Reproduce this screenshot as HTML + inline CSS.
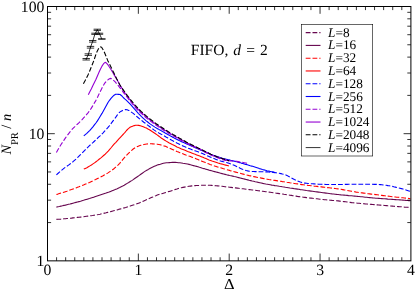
<!DOCTYPE html>
<html lang="en"><head><meta charset="utf-8"><title>FIFO, d = 2</title>
<style>html,body{margin:0;padding:0;background:#fff}body{width:415px;height:290px;overflow:hidden}svg{display:block}</style>
</head><body>
<svg width="415" height="290" viewBox="0 0 415 290" style="text-rendering:geometricPrecision">
<rect width="415" height="290" fill="#fff"/>
<g fill="none" stroke-width="1.1" stroke-linejoin="round">
<path d="M56.4 219.4 L57.9 219.3 L59.4 219.2 L60.9 219.1 L62.4 218.9 L63.9 218.8 L65.4 218.7 L66.9 218.5 L68.5 218.4 L70.0 218.2 L71.5 218.1 L73.0 217.9 L74.5 217.8 L76.0 217.6 L77.5 217.4 L79.0 217.3 L80.5 217.1 L82.0 216.9 L83.5 216.7 L85.0 216.5 L86.5 216.3 L88.0 216.1 L89.5 215.9 L91.0 215.7 L92.6 215.5 L94.1 215.2 L95.6 215.0 L97.1 214.7 L98.6 214.5 L100.1 214.2 L101.6 213.8 L103.1 213.5 L104.6 213.1 L106.1 212.8 L107.6 212.4 L109.1 212.0 L110.6 211.6 L112.1 211.2 L113.6 210.8 L115.1 210.4 L116.7 210.0 L118.2 209.6 L119.7 209.1 L121.2 208.7 L122.7 208.3 L124.2 207.9 L125.7 207.5 L127.2 207.0 L128.7 206.6 L130.2 206.1 L131.7 205.6 L133.2 205.1 L134.7 204.6 L136.2 204.1 L137.7 203.5 L139.3 202.9 L140.8 202.3 L142.3 201.6 L143.8 200.9 L145.3 200.3 L146.8 199.6 L148.3 198.9 L149.8 198.2 L151.3 197.5 L152.8 196.9 L154.3 196.2 L155.8 195.7 L157.3 195.1 L158.8 194.6 L160.3 194.1 L161.8 193.7 L163.4 193.2 L164.9 192.7 L166.4 192.3 L167.9 191.8 L169.4 191.4 L170.9 190.9 L172.4 190.4 L173.9 189.9 L175.4 189.4 L176.9 189.0 L178.4 188.5 L179.9 188.1 L181.4 187.7 L182.9 187.4 L184.4 187.1 L185.9 186.8 L187.5 186.5 L189.0 186.3 L190.5 186.1 L192.0 185.9 L193.5 185.7 L195.0 185.6 L196.5 185.5 L198.0 185.5 L199.5 185.4 L201.0 185.3 L202.5 185.3 L204.0 185.2 L205.5 185.2 L207.0 185.2 L208.5 185.2 L210.1 185.3 L211.6 185.4 L213.1 185.5 L214.6 185.6 L216.1 185.8 L217.6 185.9 L219.1 186.0 L220.6 186.2 L222.1 186.3 L223.6 186.5 L225.1 186.7 L226.6 186.9 L228.1 187.0 L229.6 187.2 L231.1 187.4 L232.6 187.6 L234.2 187.8 L235.7 187.9 L237.2 188.1 L238.7 188.3 L240.2 188.5 L241.7 188.7 L243.2 188.8 L244.7 189.0 L246.2 189.2 L247.7 189.4 L249.2 189.6 L250.7 189.8 L252.2 190.0 L253.7 190.1 L255.2 190.3 L256.7 190.5 L258.3 190.7 L259.8 190.9 L261.3 191.1 L262.8 191.3 L264.3 191.5 L265.8 191.7 L267.3 191.9 L268.8 192.1 L270.3 192.3 L271.8 192.5 L273.3 192.7 L274.8 193.0 L276.3 193.2 L277.8 193.4 L279.3 193.6 L280.9 193.8 L282.4 194.0 L283.9 194.3 L285.4 194.5 L286.9 194.7 L288.4 195.0 L289.9 195.2 L291.4 195.4 L292.9 195.7 L294.4 195.9 L295.9 196.1 L297.4 196.4 L298.9 196.6 L300.4 196.8 L301.9 197.0 L303.4 197.2 L305.0 197.4 L306.5 197.6 L308.0 197.8 L309.5 198.0 L311.0 198.1 L312.5 198.3 L314.0 198.5 L315.5 198.7 L317.0 198.8 L318.5 199.0 L320.0 199.2 L321.5 199.3 L323.0 199.5 L324.5 199.7 L326.0 199.8 L327.5 200.0 L329.1 200.1 L330.6 200.2 L332.1 200.4 L333.6 200.5 L335.1 200.6 L336.6 200.8 L338.1 200.9 L339.6 201.1 L341.1 201.3 L342.6 201.4 L344.1 201.6 L345.6 201.8 L347.1 202.0 L348.6 202.2 L350.1 202.4 L351.7 202.6 L353.2 202.7 L354.7 202.9 L356.2 203.0 L357.7 203.2 L359.2 203.3 L360.7 203.5 L362.2 203.6 L363.7 203.7 L365.2 203.9 L366.7 204.0 L368.2 204.1 L369.7 204.3 L371.2 204.4 L372.7 204.5 L374.2 204.6 L375.8 204.8 L377.3 204.9 L378.8 205.0 L380.3 205.1 L381.8 205.3 L383.3 205.4 L384.8 205.5 L386.3 205.6 L387.8 205.8 L389.3 205.9 L390.8 206.0 L392.3 206.1 L393.8 206.3 L395.3 206.4 L396.8 206.5 L398.3 206.6 L399.9 206.7 L401.4 206.8 L402.9 206.9 L404.4 207.1 L405.9 207.2 L407.4 207.3 L408.9 207.4 L410.4 207.5" stroke="#67074f" stroke-dasharray="4.8 2"/>
<path d="M56.4 207.1 L57.9 206.8 L59.4 206.5 L60.9 206.1 L62.4 205.8 L63.9 205.4 L65.4 205.1 L66.9 204.7 L68.5 204.3 L70.0 204.0 L71.5 203.6 L73.0 203.2 L74.5 202.8 L76.0 202.4 L77.5 202.0 L79.0 201.6 L80.5 201.2 L82.0 200.7 L83.5 200.3 L85.0 199.8 L86.5 199.4 L88.0 198.9 L89.5 198.5 L91.0 198.0 L92.6 197.5 L94.1 197.1 L95.6 196.6 L97.1 196.1 L98.6 195.6 L100.1 195.1 L101.6 194.6 L103.1 194.1 L104.6 193.6 L106.1 193.1 L107.6 192.5 L109.1 192.0 L110.6 191.4 L112.1 190.8 L113.6 190.2 L115.1 189.6 L116.7 188.9 L118.2 188.2 L119.7 187.5 L121.2 186.7 L122.7 186.0 L124.2 185.2 L125.7 184.3 L127.2 183.4 L128.7 182.5 L130.2 181.5 L131.7 180.6 L133.2 179.6 L134.7 178.5 L136.2 177.5 L137.7 176.5 L139.3 175.4 L140.8 174.3 L142.3 173.2 L143.8 172.1 L145.3 171.1 L146.8 170.2 L148.3 169.4 L149.8 168.5 L151.3 167.7 L152.8 167.0 L154.3 166.3 L155.8 165.7 L157.3 165.1 L158.8 164.6 L160.3 164.2 L161.8 163.7 L163.4 163.3 L164.9 163.0 L166.4 162.8 L167.9 162.7 L169.4 162.6 L170.9 162.5 L172.4 162.4 L173.9 162.4 L175.4 162.4 L176.9 162.5 L178.4 162.7 L179.9 162.8 L181.4 163.0 L182.9 163.3 L184.4 163.5 L185.9 163.7 L187.5 164.0 L189.0 164.4 L190.5 164.8 L192.0 165.2 L193.5 165.6 L195.0 166.0 L196.5 166.4 L198.0 166.8 L199.5 167.3 L201.0 167.7 L202.5 168.2 L204.0 168.6 L205.5 169.1 L207.0 169.5 L208.5 169.9 L210.1 170.4 L211.6 170.8 L213.1 171.2 L214.6 171.6 L216.1 172.0 L217.6 172.4 L219.1 172.8 L220.6 173.2 L222.1 173.6 L223.6 174.0 L225.1 174.4 L226.6 174.8 L228.1 175.1 L229.6 175.5 L231.1 175.8 L232.6 176.1 L234.2 176.5 L235.7 176.8 L237.2 177.2 L238.7 177.6 L240.2 178.0 L241.7 178.4 L243.2 178.7 L244.7 179.1 L246.2 179.5 L247.7 179.9 L249.2 180.3 L250.7 180.6 L252.2 181.0 L253.7 181.3 L255.2 181.7 L256.7 182.0 L258.3 182.4 L259.8 182.7 L261.3 183.0 L262.8 183.4 L264.3 183.7 L265.8 184.0 L267.3 184.2 L268.8 184.5 L270.3 184.8 L271.8 185.1 L273.3 185.3 L274.8 185.6 L276.3 185.8 L277.8 186.0 L279.3 186.3 L280.9 186.5 L282.4 186.8 L283.9 187.0 L285.4 187.3 L286.9 187.5 L288.4 187.7 L289.9 188.0 L291.4 188.2 L292.9 188.4 L294.4 188.7 L295.9 188.9 L297.4 189.1 L298.9 189.3 L300.4 189.6 L301.9 189.8 L303.4 190.0 L305.0 190.2 L306.5 190.5 L308.0 190.7 L309.5 190.9 L311.0 191.1 L312.5 191.3 L314.0 191.5 L315.5 191.7 L317.0 191.9 L318.5 192.1 L320.0 192.3 L321.5 192.5 L323.0 192.7 L324.5 192.9 L326.0 193.1 L327.5 193.3 L329.1 193.5 L330.6 193.7 L332.1 193.9 L333.6 194.0 L335.1 194.2 L336.6 194.4 L338.1 194.5 L339.6 194.7 L341.1 194.9 L342.6 195.0 L344.1 195.1 L345.6 195.3 L347.1 195.4 L348.6 195.6 L350.1 195.7 L351.7 195.8 L353.2 196.0 L354.7 196.1 L356.2 196.2 L357.7 196.4 L359.2 196.5 L360.7 196.7 L362.2 196.8 L363.7 197.0 L365.2 197.2 L366.7 197.3 L368.2 197.5 L369.7 197.6 L371.2 197.7 L372.7 197.9 L374.2 198.0 L375.8 198.2 L377.3 198.3 L378.8 198.4 L380.3 198.5 L381.8 198.6 L383.3 198.7 L384.8 198.8 L386.3 198.9 L387.8 199.1 L389.3 199.2 L390.8 199.3 L392.3 199.4 L393.8 199.5 L395.3 199.6 L396.8 199.7 L398.3 199.8 L399.9 199.9 L401.4 200.0 L402.9 200.1 L404.4 200.2 L405.9 200.4 L407.4 200.5 L408.9 200.6 L410.4 200.7" stroke="#67074f"/>
<path d="M56.4 194.5 L57.9 194.1 L59.4 193.6 L60.9 193.1 L62.4 192.7 L63.9 192.2 L65.4 191.7 L66.9 191.2 L68.5 190.6 L70.0 190.1 L71.5 189.6 L73.0 189.0 L74.5 188.5 L76.0 187.9 L77.5 187.3 L79.0 186.8 L80.5 186.2 L82.0 185.6 L83.5 185.0 L85.0 184.3 L86.5 183.7 L88.0 183.0 L89.5 182.4 L91.0 181.7 L92.6 181.0 L94.1 180.3 L95.6 179.6 L97.1 178.8 L98.6 178.1 L100.1 177.3 L101.6 176.5 L103.1 175.7 L104.6 174.8 L106.1 174.0 L107.6 173.1 L109.1 172.1 L110.6 171.1 L112.1 170.1 L113.6 169.0 L115.1 167.7 L116.7 166.3 L118.2 164.9 L119.7 163.3 L121.2 161.6 L122.7 159.7 L124.2 157.9 L125.7 156.3 L127.2 154.7 L128.7 153.2 L130.2 151.7 L131.7 150.3 L133.2 149.0 L134.7 148.0 L136.2 147.1 L137.7 146.4 L139.3 145.8 L140.8 145.3 L142.3 144.9 L143.8 144.5 L145.3 144.2 L146.8 144.0 L148.3 143.8 L149.8 143.8 L151.3 143.8 L152.8 143.9 L154.3 144.0 L155.8 144.1 L157.3 144.2 L158.8 144.5 L160.3 144.8 L161.8 145.2 L163.4 145.7 L164.9 146.1 L166.4 146.7 L167.9 147.4 L169.4 148.0 L170.9 148.7 L172.4 149.4 L173.9 150.1 L175.4 150.8 L176.9 151.5 L178.4 152.1 L179.9 152.7 L181.4 153.3 L182.9 153.8 L184.4 154.4 L185.9 155.0 L187.5 155.5 L189.0 156.1 L190.5 156.6 L192.0 157.2 L193.5 157.8 L195.0 158.3 L196.5 158.9 L198.0 159.5 L199.5 160.2 L201.0 160.8 L202.5 161.4 L204.0 162.0 L205.5 162.6 L207.0 163.2 L208.5 163.8 L210.1 164.4 L211.6 164.9 L213.1 165.5 L214.6 166.0 L216.1 166.4 L217.6 166.9 L219.1 167.4 L220.6 167.8 L222.1 168.2 L223.6 168.7 L225.1 169.1 L226.6 169.6 L228.1 170.0 L229.6 170.4 L231.1 170.9 L232.6 171.3 L234.2 171.7 L235.7 172.1 L237.2 172.5 L238.7 172.9 L240.2 173.3 L241.7 173.7 L243.2 174.1 L244.7 174.5 L246.2 174.9 L247.7 175.2 L249.2 175.6 L250.7 175.9 L252.2 176.3 L253.7 176.6 L255.2 176.9 L256.7 177.2 L258.3 177.5 L259.8 177.8 L261.3 178.1 L262.8 178.4 L264.3 178.7 L265.8 179.0 L267.3 179.2 L268.8 179.5 L270.3 179.7 L271.8 180.0 L273.3 180.2 L274.8 180.4 L276.3 180.6 L277.8 180.9 L279.3 181.1 L280.9 181.3 L282.4 181.6 L283.9 181.8 L285.4 182.0 L286.9 182.3 L288.4 182.5 L289.9 182.8 L291.4 183.0 L292.9 183.3 L294.4 183.5 L295.9 183.7 L297.4 183.9 L298.9 184.2 L300.4 184.4 L301.9 184.6 L303.4 184.8 L305.0 185.0 L306.5 185.2 L308.0 185.4 L309.5 185.5 L311.0 185.7 L312.5 185.9 L314.0 186.1 L315.5 186.2 L317.0 186.4 L318.5 186.6 L320.0 186.8 L321.5 186.9 L323.0 187.1 L324.5 187.3 L326.0 187.5 L327.5 187.6 L329.1 187.8 L330.6 188.0 L332.1 188.1 L333.6 188.3 L335.1 188.5 L336.6 188.7 L338.1 188.9 L339.6 189.1 L341.1 189.3 L342.6 189.6 L344.1 189.9 L345.6 190.1 L347.1 190.4 L348.6 190.7 L350.1 191.0 L351.7 191.3 L353.2 191.6 L354.7 191.8 L356.2 192.1 L357.7 192.3 L359.2 192.5 L360.7 192.7 L362.2 192.9 L363.7 193.1 L365.2 193.3 L366.7 193.5 L368.2 193.7 L369.7 193.9 L371.2 194.1 L372.7 194.3 L374.2 194.4 L375.8 194.6 L377.3 194.8 L378.8 195.0 L380.3 195.2 L381.8 195.4 L383.3 195.6 L384.8 195.8 L386.3 195.9 L387.8 196.1 L389.3 196.3 L390.8 196.5 L392.3 196.7 L393.8 196.8 L395.3 197.0 L396.8 197.2 L398.3 197.3 L399.9 197.5 L401.4 197.7 L402.9 197.8 L404.4 198.0 L405.9 198.1 L407.4 198.3 L408.9 198.5 L410.4 198.6" stroke="#ff0000" stroke-dasharray="4.8 2"/>
<path d="M83.8 169.1 L85.3 168.4 L86.9 167.7 L88.4 166.8 L89.9 165.9 L91.4 165.0 L93.0 163.9 L94.5 162.9 L96.0 161.7 L97.5 160.6 L99.1 159.3 L100.6 158.1 L102.1 156.8 L103.6 155.5 L105.2 154.2 L106.7 152.7 L108.2 151.1 L109.7 149.3 L111.3 147.5 L112.8 145.7 L114.3 143.9 L115.9 142.3 L117.4 140.6 L118.9 138.9 L120.4 137.3 L122.0 135.6 L123.5 134.0 L125.0 132.3 L126.5 130.5 L128.1 128.9 L129.6 127.6 L131.1 126.8 L132.6 126.2 L134.2 125.6 L135.7 125.3 L137.2 125.2 L138.7 125.4 L140.3 125.8 L141.8 126.3 L143.3 126.8 L144.9 127.5 L146.4 128.1 L147.9 128.9 L149.4 129.7 L151.0 130.7 L152.5 131.8 L154.0 132.8 L155.5 133.8 L157.1 134.9 L158.6 136.0 L160.1 137.1 L161.6 138.2 L163.2 139.2 L164.7 140.2 L166.2 141.1 L167.7 142.0 L169.3 142.9 L170.8 143.7 L172.3 144.5 L173.9 145.3 L175.4 146.1 L176.9 146.9 L178.4 147.6 L180.0 148.2 L181.5 148.9 L183.0 149.5 L184.5 150.1 L186.1 150.7 L187.6 151.4 L189.1 152.0 L190.6 152.6 L192.2 153.2 L193.7 153.8 L195.2 154.3 L196.7 154.9 L198.3 155.5 L199.8 156.1 L201.3 156.7 L202.9 157.3 L204.4 158.0 L205.9 158.6 L207.4 159.2 L209.0 159.9 L210.5 160.4 L212.0 161.0 L213.5 161.5 L215.1 162.0 L216.6 162.5 L218.1 163.0 L219.6 163.4 L221.2 163.9 L222.7 164.3 L224.2 164.7 L225.7 165.1 L227.3 165.5 L228.8 165.9" stroke="#ff0000"/>
<path d="M56.4 174.9 L57.9 173.5 L59.4 172.2 L60.9 170.9 L62.4 169.6 L63.9 168.4 L65.4 167.3 L66.9 166.2 L68.5 165.1 L70.0 164.0 L71.5 162.8 L73.0 161.7 L74.5 160.4 L76.0 159.1 L77.5 157.7 L79.0 156.2 L80.5 154.7 L82.0 153.2 L83.5 151.6 L85.0 150.1 L86.5 148.6 L88.0 147.1 L89.5 145.7 L91.0 144.3 L92.6 142.9 L94.1 141.5 L95.6 140.1 L97.1 138.7 L98.6 137.2 L100.1 135.8 L101.6 134.3 L103.1 132.8 L104.6 131.2 L106.1 129.6 L107.6 127.9 L109.1 126.1 L110.6 124.2 L112.1 122.2 L113.6 120.2 L115.1 118.2 L116.7 115.9 L118.2 113.7 L119.7 112.1 L121.2 111.2 L122.7 110.4 L124.2 109.9 L125.7 109.6 L127.2 109.8 L128.7 110.4 L130.2 111.4 L131.7 112.4 L133.2 113.4 L134.7 114.7 L136.2 116.1 L137.7 117.3 L139.3 118.6 L140.8 119.8 L142.3 121.0 L143.8 122.2 L145.3 123.3 L146.8 124.5 L148.3 125.6 L149.8 126.8 L151.3 127.9 L152.8 129.0 L154.3 130.1 L155.8 131.1 L157.3 132.0 L158.8 132.9 L160.3 133.7 L161.8 134.6 L163.4 135.4 L164.9 136.3 L166.4 137.2 L167.9 138.0 L169.4 138.9 L170.9 139.7 L172.4 140.6 L173.9 141.4 L175.4 142.2 L176.9 143.0 L178.4 143.7 L179.9 144.4 L181.4 145.2 L182.9 145.9 L184.4 146.6 L185.9 147.2 L187.5 147.9 L189.0 148.5 L190.5 149.1 L192.0 149.7 L193.5 150.3 L195.0 150.8 L196.5 151.3 L198.0 151.8 L199.5 152.3 L201.0 152.9 L202.5 153.5 L204.0 154.2 L205.5 154.9 L207.0 155.6 L208.5 156.2 L210.1 156.9 L211.6 157.6 L213.1 158.2 L214.6 158.8 L216.1 159.4 L217.6 160.0 L219.1 160.5 L220.6 161.0 L222.1 161.4 L223.6 161.8 L225.1 162.1 L226.6 162.6 L228.1 163.1 L229.6 163.6 L231.1 164.1 L232.6 164.7 L234.2 165.3 L235.7 166.0 L237.2 166.7 L238.7 167.5 L240.2 168.3 L241.7 169.0 L243.2 169.6 L244.7 170.0 L246.2 170.5 L247.7 170.9 L249.2 171.2 L250.7 171.4 L252.2 171.5 L253.7 171.5 L255.2 171.6 L256.7 171.6 L258.3 171.7 L259.8 171.7 L261.3 171.7 L262.8 171.8 L264.3 171.8 L265.8 171.9 L267.3 171.9 L268.8 172.0 L270.3 172.2 L271.8 172.3 L273.3 172.5 L274.8 172.6 L276.3 172.8 L277.8 173.1 L279.3 173.3 L280.9 173.6 L282.4 174.0 L283.9 174.3 L285.4 174.8 L286.9 175.4 L288.4 176.3 L289.9 177.1 L291.4 177.9 L292.9 178.7 L294.4 179.5 L295.9 180.2 L297.4 180.9 L298.9 181.5 L300.4 182.1 L301.9 182.6 L303.4 182.9 L305.0 183.1 L306.5 183.3 L308.0 183.5 L309.5 183.6 L311.0 183.7 L312.5 183.8 L314.0 183.9 L315.5 184.0 L317.0 184.1 L318.5 184.2 L320.0 184.3 L321.5 184.3 L323.0 184.4 L324.5 184.4 L326.0 184.5 L327.5 184.5 L329.1 184.5 L330.6 184.5 L332.1 184.5 L333.6 184.5 L335.1 184.5 L336.6 184.5 L338.1 184.5 L339.6 184.5 L341.1 184.5 L342.6 184.5 L344.1 184.4 L345.6 184.4 L347.1 184.4 L348.6 184.3 L350.1 184.3 L351.7 184.2 L353.2 184.2 L354.7 184.2 L356.2 184.2 L357.7 184.2 L359.2 184.2 L360.7 184.2 L362.2 184.2 L363.7 184.2 L365.2 184.2 L366.7 184.3 L368.2 184.3 L369.7 184.3 L371.2 184.3 L372.7 184.3 L374.2 184.4 L375.8 184.4 L377.3 184.4 L378.8 184.5 L380.3 184.6 L381.8 184.8 L383.3 185.0 L384.8 185.2 L386.3 185.3 L387.8 185.6 L389.3 185.8 L390.8 186.1 L392.3 186.4 L393.8 186.8 L395.3 187.1 L396.8 187.5 L398.3 187.8 L399.9 188.2 L401.4 188.6 L402.9 189.0 L404.4 189.5 L405.9 189.9 L407.4 190.4 L408.9 190.9 L410.4 191.4" stroke="#0000ff" stroke-dasharray="4.8 2"/>
<path d="M83.8 135.8 L85.3 134.6 L86.8 133.3 L88.3 131.8 L89.9 130.3 L91.4 128.6 L92.9 126.8 L94.4 124.9 L95.9 123.0 L97.4 120.9 L98.9 118.5 L100.4 116.0 L102.0 113.4 L103.5 110.8 L105.0 108.1 L106.5 105.3 L108.0 102.5 L109.5 100.3 L111.0 98.4 L112.6 96.7 L114.1 95.2 L115.6 94.3 L117.1 94.3 L118.6 94.4 L120.1 94.5 L121.6 95.7 L123.2 97.5 L124.7 98.9 L126.2 100.2 L127.7 101.6 L129.2 103.1 L130.7 104.7 L132.2 106.4 L133.7 108.1 L135.3 109.9 L136.8 111.7 L138.3 113.3 L139.8 114.8 L141.3 116.4 L142.8 117.8 L144.3 119.2 L145.9 120.6 L147.4 121.8 L148.9 123.0 L150.4 124.1 L151.9 125.1 L153.4 126.1 L154.9 127.1 L156.4 128.0 L158.0 128.9 L159.5 129.8 L161.0 130.6 L162.5 131.5 L164.0 132.3 L165.5 133.2 L167.0 134.0 L168.6 134.9 L170.1 135.8 L171.6 136.6 L173.1 137.4 L174.6 138.3 L176.1 139.1 L177.6 139.8 L179.1 140.6 L180.7 141.3 L182.2 142.0 L183.7 142.6 L185.2 143.3 L186.7 144.0 L188.2 144.6 L189.7 145.3 L191.3 145.9 L192.8 146.6 L194.3 147.3 L195.8 147.9 L197.3 148.6 L198.8 149.2 L200.3 149.9 L201.9 150.5 L203.4 151.2 L204.9 151.8 L206.4 152.5 L207.9 153.1 L209.4 153.7 L210.9 154.4 L212.4 154.9 L214.0 155.5 L215.5 156.1 L217.0 156.6 L218.5 157.1 L220.0 157.6 L221.5 158.0 L223.0 158.5 L224.6 158.8 L226.1 159.2 L227.6 159.6 L229.1 159.9 L230.6 160.3 L232.1 160.6 L233.6 161.0 L235.1 161.4 L236.7 161.8 L238.2 162.2 L239.7 162.6 L241.2 163.1 L242.7 163.5 L244.2 163.9 L245.7 164.4 L247.3 164.8 L248.8 165.2 L250.3 165.7 L251.8 166.1 L253.3 166.6 L254.8 167.1 L256.3 167.6 L257.9 168.1 L259.4 168.6 L260.9 169.0 L262.4 169.5 L263.9 169.9 L265.4 170.3 L266.9 170.7 L268.4 171.0 L270.0 171.4 L271.5 171.7 L273.0 171.9 L274.5 172.2" stroke="#0000ff"/>
<path d="M56.4 152.4 L57.9 149.8 L59.4 147.2 L60.9 144.8 L62.5 142.4 L64.0 140.1 L65.5 137.9 L67.0 135.8 L68.5 133.8 L70.0 131.9 L71.5 130.0 L73.0 128.3 L74.6 126.8 L76.1 125.3 L77.6 124.0 L79.1 122.6 L80.6 121.1 L82.1 119.6 L83.6 117.9 L85.2 116.2 L86.7 114.4 L88.2 112.6 L89.7 110.5 L91.2 108.4 L92.7 105.9 L94.2 103.3 L95.8 100.6 L97.3 97.7 L98.8 94.6 L100.3 91.4 L101.8 88.4 L103.3 85.7 L104.8 83.1 L106.3 81.3 L107.9 79.9 L109.4 78.8 L110.9 78.4 L112.4 79.1 L113.9 80.7 L115.4 82.2 L116.9 84.0 L118.5 85.9 L120.0 87.9 L121.5 89.8 L123.0 91.8 L124.5 93.8 L126.0 95.8 L127.5 97.7 L129.0 99.6 L130.6 101.6 L132.1 103.5 L133.6 105.3 L135.1 107.1 L136.6 108.8 L138.1 110.4 L139.6 111.9 L141.2 113.3 L142.7 114.7 L144.2 116.0 L145.7 117.3 L147.2 118.6 L148.7 119.8 L150.2 120.9 L151.8 122.1 L153.3 123.2 L154.8 124.3 L156.3 125.3 L157.8 126.4 L159.3 127.4 L160.8 128.4 L162.3 129.4 L163.9 130.3 L165.4 131.3 L166.9 132.2 L168.4 133.1 L169.9 133.9 L171.4 134.8 L172.9 135.7 L174.5 136.5 L176.0 137.4 L177.5 138.2 L179.0 139.1 L180.5 139.9 L182.0 140.7 L183.5 141.5 L185.0 142.3 L186.6 143.1 L188.1 143.9 L189.6 144.7 L191.1 145.4 L192.6 146.2 L194.1 146.9 L195.6 147.5 L197.2 148.2 L198.7 148.9 L200.2 149.6 L201.7 150.3 L203.2 151.1 L204.7 151.9 L206.2 152.7 L207.7 153.4 L209.3 154.2 L210.8 154.9 L212.3 155.6 L213.8 156.2 L215.3 156.8 L216.8 157.5 L218.3 158.1 L219.9 158.7 L221.4 159.3 L222.9 159.7 L224.4 160.1 L225.9 160.4 L227.4 160.6 L228.9 160.8 L230.5 160.9 L232.0 161.0 L233.5 161.1 L235.0 161.2 L236.5 161.4 L238.0 161.6 L239.5 161.9 L241.0 162.1 L242.6 162.4 L244.1 162.7 L245.6 163.0 L247.1 163.3" stroke="#9400d3" stroke-dasharray="4.837 2.015"/>
<path d="M88.3 94.8 L89.8 91.8 L91.4 88.8 L92.9 85.6 L94.4 82.4 L96.0 79.2 L97.5 75.7 L99.0 72.2 L100.5 68.9 L102.1 65.9 L103.6 63.7 L105.1 62.3 L106.7 63.3 L108.2 65.2 L109.7 67.5 L111.3 70.0 L112.8 72.6 L114.3 75.1 L115.8 77.6 L117.4 80.3 L118.9 83.2 L120.4 85.9 L122.0 88.4 L123.5 90.8 L125.0 93.1 L126.6 95.3 L128.1 97.4 L129.6 99.4 L131.2 101.4 L132.7 103.3 L134.2 105.1 L135.7 106.8 L137.3 108.5 L138.8 110.0 L140.3 111.5 L141.9 113.0 L143.4 114.4 L144.9 115.7 L146.5 117.0 L148.0 118.3 L149.5 119.5 L151.0 120.7 L152.6 121.8 L154.1 122.9 L155.6 124.0 L157.2 125.1 L158.7 126.2 L160.2 127.2 L161.8 128.2 L163.3 129.2 L164.8 130.2 L166.4 131.1 L167.9 132.0 L169.4 133.0 L170.9 133.9 L172.5 134.7 L174.0 135.6 L175.5 136.5 L177.1 137.4 L178.6 138.2 L180.1 139.1 L181.7 139.9 L183.2 140.8 L184.7 141.6 L186.2 142.4 L187.8 143.2 L189.3 144.0 L190.8 144.8 L192.4 145.6 L193.9 146.3 L195.4 147.0 L197.0 147.7 L198.5 148.4 L200.0 149.1 L201.6 149.9 L203.1 150.6 L204.6 151.4 L206.1 152.2 L207.7 153.0 L209.2 153.8 L210.7 154.5 L212.3 155.2 L213.8 155.8 L215.3 156.4 L216.9 156.9 L218.4 157.5 L219.9 158.0 L221.4 158.5 L223.0 159.0 L224.5 159.5 L226.0 160.0 L227.6 160.5 L229.1 160.9" stroke="#9400d3"/>
<path d="M83.4 83.8 L84.9 81.1 L86.4 78.2 L88.0 74.9 L89.5 71.5 L91.0 67.8 L92.5 64.0 L94.0 60.1 L95.5 55.6 L97.1 51.4 L98.6 48.6 L100.1 46.8 L101.6 47.2 L103.1 49.7 L104.6 52.8 L106.2 56.7 L107.7 60.4 L109.2 63.4 L110.7 66.4 L112.2 69.6 L113.8 72.8 L115.3 76.0 L116.8 79.1 L118.3 82.0 L119.8 84.7 L121.3 87.1 L122.9 89.4 L124.4 91.5 L125.9 93.6 L127.4 95.6 L128.9 97.5 L130.4 99.5 L132.0 101.4 L133.5 103.2 L135.0 105.0 L136.5 106.7 L138.0 108.3 L139.6 109.8 L141.1 111.3 L142.6 112.7 L144.1 114.0 L145.6 115.4 L147.1 116.7 L148.7 117.9 L150.2 119.1 L151.7 120.3 L153.2 121.4 L154.7 122.6 L156.2 123.7 L157.8 124.7 L159.3 125.8 L160.8 126.8 L162.3 127.8 L163.8 128.8 L165.4 129.8 L166.9 130.7 L168.4 131.7 L169.9 132.6 L171.4 133.5 L172.9 134.4 L174.5 135.3 L176.0 136.2 L177.5 137.0 L179.0 137.9 L180.5 138.8 L182.1 139.6 L183.6 140.5 L185.1 141.3 L186.6 142.2 L188.1 143.0 L189.6 143.8 L191.2 144.6 L192.7 145.3 L194.2 146.1 L195.7 146.8 L197.2 147.5 L198.7 148.2 L200.3 148.9 L201.8 149.7 L203.3 150.5 L204.8 151.2 L206.3 152.0 L207.9 152.8 L209.4 153.6 L210.9 154.3 L212.4 154.9 L213.9 155.5 L215.4 156.1 L217.0 156.7 L218.5 157.2 L220.0 157.7 L221.5 158.2 L223.0 158.7 L224.5 159.2 L226.1 159.7 L227.6 160.2 L229.1 160.6" stroke="#000000" stroke-dasharray="4.8 2"/>
<path d="M86.2 59.2 L88.3 54.6 L90.5 47.2 L92.7 41.3 L95.0 33.8 L97.3 29.8 L99.5 33.8 L101.8 39.0" stroke="#000" stroke-width="0.8"/>
<path d="M82.5 58.5 H89.9 M82.5 60.0 H89.9 M86.2 58.5 V60.0 M84.6 53.8 H92.0 M84.6 55.4 H92.0 M88.3 53.8 V55.4 M86.8 46.4 H94.2 M86.8 48.1 H94.2 M90.5 46.4 V48.1 M89.0 40.5 H96.4 M89.0 42.1 H96.4 M92.7 40.5 V42.1 M91.3 33.2 H98.7 M91.3 34.4 H98.7 M95.0 33.2 V34.4 M93.6 29.2 H101.0 M93.6 30.4 H101.0 M97.3 29.2 V30.4 M95.8 33.2 H103.2 M95.8 34.3 H103.2 M99.5 33.2 V34.3 M98.1 38.8 H105.5 M98.1 39.2 H105.5 M101.8 38.8 V39.2" stroke="#000" stroke-width="0.8"/>
</g>
<path d="M56.59 260.85 v-3.60 M56.59 6.50 v3.60 M65.67 260.85 v-3.60 M65.67 6.50 v3.60 M74.75 260.85 v-3.60 M74.75 6.50 v3.60 M83.84 260.85 v-3.60 M83.84 6.50 v3.60 M92.92 260.85 v-3.60 M92.92 6.50 v3.60 M102.01 260.85 v-3.60 M102.01 6.50 v3.60 M111.09 260.85 v-3.60 M111.09 6.50 v3.60 M120.18 260.85 v-3.60 M120.18 6.50 v3.60 M129.26 260.85 v-3.60 M129.26 6.50 v3.60 M138.35 260.85 v-7.30 M138.35 6.50 v7.30 M147.44 260.85 v-3.60 M147.44 6.50 v3.60 M156.52 260.85 v-3.60 M156.52 6.50 v3.60 M165.60 260.85 v-3.60 M165.60 6.50 v3.60 M174.69 260.85 v-3.60 M174.69 6.50 v3.60 M183.77 260.85 v-3.60 M183.77 6.50 v3.60 M192.86 260.85 v-3.60 M192.86 6.50 v3.60 M201.94 260.85 v-3.60 M201.94 6.50 v3.60 M211.03 260.85 v-3.60 M211.03 6.50 v3.60 M220.11 260.85 v-3.60 M220.11 6.50 v3.60 M229.20 260.85 v-7.30 M229.20 6.50 v7.30 M238.28 260.85 v-3.60 M238.28 6.50 v3.60 M247.37 260.85 v-3.60 M247.37 6.50 v3.60 M256.45 260.85 v-3.60 M256.45 6.50 v3.60 M265.54 260.85 v-3.60 M265.54 6.50 v3.60 M274.62 260.85 v-3.60 M274.62 6.50 v3.60 M283.71 260.85 v-3.60 M283.71 6.50 v3.60 M292.79 260.85 v-3.60 M292.79 6.50 v3.60 M301.88 260.85 v-3.60 M301.88 6.50 v3.60 M310.96 260.85 v-3.60 M310.96 6.50 v3.60 M320.05 260.85 v-7.30 M320.05 6.50 v7.30 M329.13 260.85 v-3.60 M329.13 6.50 v3.60 M338.22 260.85 v-3.60 M338.22 6.50 v3.60 M347.30 260.85 v-3.60 M347.30 6.50 v3.60 M356.39 260.85 v-3.60 M356.39 6.50 v3.60 M365.47 260.85 v-3.60 M365.47 6.50 v3.60 M374.56 260.85 v-3.60 M374.56 6.50 v3.60 M383.64 260.85 v-3.60 M383.64 6.50 v3.60 M392.73 260.85 v-3.60 M392.73 6.50 v3.60 M401.81 260.85 v-3.60 M401.81 6.50 v3.60 M47.50 222.57 h3.60 M410.90 222.57 h-3.60 M47.50 200.17 h3.60 M410.90 200.17 h-3.60 M47.50 184.28 h3.60 M410.90 184.28 h-3.60 M47.50 171.96 h3.60 M410.90 171.96 h-3.60 M47.50 161.89 h3.60 M410.90 161.89 h-3.60 M47.50 153.37 h3.60 M410.90 153.37 h-3.60 M47.50 146.00 h3.60 M410.90 146.00 h-3.60 M47.50 139.49 h3.60 M410.90 139.49 h-3.60 M47.50 133.68 h7.30 M410.90 133.68 h-7.30 M47.50 95.39 h3.60 M410.90 95.39 h-3.60 M47.50 73.00 h3.60 M410.90 73.00 h-3.60 M47.50 57.11 h3.60 M410.90 57.11 h-3.60 M47.50 44.78 h3.60 M410.90 44.78 h-3.60 M47.50 34.71 h3.60 M410.90 34.71 h-3.60 M47.50 26.20 h3.60 M410.90 26.20 h-3.60 M47.50 18.82 h3.60 M410.90 18.82 h-3.60 M47.50 12.32 h3.60 M410.90 12.32 h-3.60" stroke="#000" stroke-width="0.8" fill="none"/>
<rect x="47.50" y="6.50" width="363.40" height="254.35" fill="none" stroke="#000" stroke-width="1.0"/>
<rect x="301.5" y="24.5" width="71.2" height="131.5" fill="#fff" stroke="#000" stroke-width="0.6"/>
<g font-family="'Liberation Serif', serif" font-size="13.3" fill="#000">
<path d="M305.7 32.65 H320.5" stroke="#67074f" stroke-width="1.1" fill="none" stroke-dasharray="4.8 2"/>
<text x="328.0" y="36.65"><tspan font-style="italic">L</tspan>=8</text>
<path d="M305.7 45.42 H320.5" stroke="#67074f" stroke-width="1.1" fill="none"/>
<text x="328.0" y="49.42"><tspan font-style="italic">L</tspan>=16</text>
<path d="M305.7 58.19 H320.5" stroke="#ff0000" stroke-width="1.1" fill="none" stroke-dasharray="4.8 2"/>
<text x="328.0" y="62.19"><tspan font-style="italic">L</tspan>=32</text>
<path d="M305.7 70.96 H320.5" stroke="#ff0000" stroke-width="1.1" fill="none"/>
<text x="328.0" y="74.96"><tspan font-style="italic">L</tspan>=64</text>
<path d="M305.7 83.73 H320.5" stroke="#0000ff" stroke-width="1.1" fill="none" stroke-dasharray="4.8 2"/>
<text x="328.0" y="87.73"><tspan font-style="italic">L</tspan>=128</text>
<path d="M305.7 96.50 H320.5" stroke="#0000ff" stroke-width="1.1" fill="none"/>
<text x="328.0" y="100.50"><tspan font-style="italic">L</tspan>=256</text>
<path d="M305.7 109.27 H320.5" stroke="#9400d3" stroke-width="1.1" fill="none" stroke-dasharray="4.8 2"/>
<text x="328.0" y="113.27"><tspan font-style="italic">L</tspan>=512</text>
<path d="M305.7 122.04 H320.5" stroke="#9400d3" stroke-width="1.1" fill="none"/>
<text x="328.0" y="126.04"><tspan font-style="italic">L</tspan>=1024</text>
<path d="M305.7 134.81 H320.5" stroke="#000000" stroke-width="1.1" fill="none" stroke-dasharray="4.8 2"/>
<text x="328.0" y="138.81"><tspan font-style="italic">L</tspan>=2048</text>
<path d="M305.7 147.58 H320.5" stroke="#000" stroke-width="0.8" fill="none"/>
<text x="328.0" y="151.58"><tspan font-style="italic">L</tspan>=4096</text>
</g>
<g font-family="'Liberation Serif', serif" font-size="15.7" fill="#000">
<text x="47.50" y="275" text-anchor="middle">0</text>
<text x="138.35" y="275" text-anchor="middle">1</text>
<text x="229.20" y="275" text-anchor="middle">2</text>
<text x="320.05" y="275" text-anchor="middle">3</text>
<text x="410.90" y="275" text-anchor="middle">4</text>
<text x="44.4" y="266.25" text-anchor="end">1</text>
<text x="44.4" y="139.08" text-anchor="end">10</text>
<text x="44.4" y="11.90" text-anchor="end">100</text>
</g>
<text x="190.8" y="55.4" font-family="'Liberation Serif', serif" font-size="15.5" word-spacing="1.2">FIFO, <tspan font-style="italic">d</tspan> = 2</text>
<text transform="translate(229.4 289.4) scale(1.1 1)" text-anchor="middle" font-family="'Liberation Serif', serif" font-size="15.0">Δ</text>
<text transform="translate(11.2 154.6) rotate(-90)" font-family="'Liberation Serif', serif" font-size="14.3"><tspan font-style="italic">N</tspan><tspan font-size="10.5" dy="6.9">PR</tspan><tspan dy="-6.9"> / </tspan><tspan font-style="italic">n</tspan></text>
</svg>
</body></html>
